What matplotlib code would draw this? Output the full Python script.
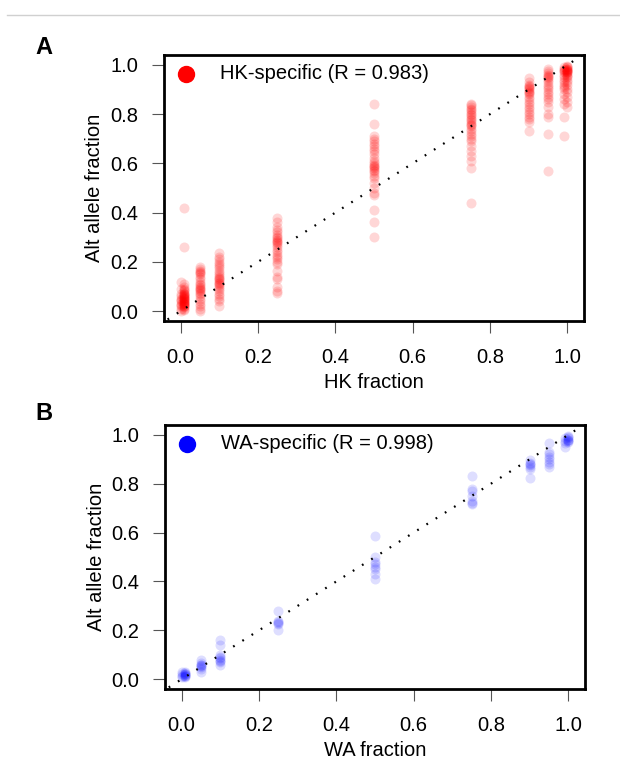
import matplotlib
matplotlib.use("Agg")
import matplotlib.pyplot as plt
from matplotlib.lines import Line2D

plt.rcParams['font.family'] = ['Liberation Sans', 'DejaVu Sans']

# ---------------- Panel A data (HK-specific) ----------------
hk_x_groups = [0.0, 0.01, 0.05, 0.1, 0.25, 0.5, 0.75, 0.9, 0.95, 0.99, 1.0]
hk_000 = [0.12, 0.09, 0.07, 0.06, 0.05, 0.045, 0.04, 0.03, 0.025, 0.02, 0.01, 0.0]
hk_001 = [0.42, 0.26, 0.11, 0.10, 0.09, 0.085, 0.08, 0.075, 0.07, 0.068, 0.065,
          0.062, 0.06, 0.058, 0.055, 0.053, 0.05, 0.048, 0.045, 0.043, 0.04,
          0.038, 0.035, 0.033, 0.03, 0.028, 0.025, 0.022, 0.02, 0.015, 0.01, 0.005]
hk_005 = [0.18, 0.17, 0.165, 0.16, 0.155, 0.15, 0.14, 0.13, 0.12, 0.11, 0.105,
          0.1, 0.095, 0.09, 0.085, 0.08, 0.075, 0.07, 0.06, 0.05, 0.04, 0.03,
          0.02, 0.01, 0.0]
hk_010 = [0.235, 0.22, 0.21, 0.2, 0.19, 0.185, 0.175, 0.165, 0.155, 0.145, 0.14,
          0.135, 0.13, 0.125, 0.12, 0.115, 0.11, 0.105, 0.1, 0.09, 0.08, 0.07,
          0.06, 0.05, 0.04, 0.02]
hk_025 = [0.38, 0.36, 0.34, 0.33, 0.32, 0.31, 0.30, 0.295, 0.29, 0.285, 0.28,
          0.275, 0.27, 0.26, 0.25, 0.24, 0.23, 0.22, 0.21, 0.2, 0.19, 0.165,
          0.14, 0.13, 0.1, 0.08, 0.075]
hk_050 = [0.84, 0.76, 0.71, 0.70, 0.69, 0.68, 0.67, 0.66, 0.65, 0.64, 0.62,
          0.61, 0.60, 0.595, 0.59, 0.585, 0.58, 0.575, 0.57, 0.56, 0.55, 0.54,
          0.52, 0.5, 0.48, 0.47, 0.41, 0.36, 0.30]
hk_075 = [0.84, 0.835, 0.83, 0.82, 0.815, 0.81, 0.80, 0.795, 0.79, 0.78, 0.775,
          0.77, 0.76, 0.755, 0.75, 0.74, 0.73, 0.72, 0.71, 0.70, 0.69, 0.67,
          0.65, 0.63, 0.61, 0.58, 0.44]
hk_090 = [0.945, 0.93, 0.92, 0.915, 0.91, 0.905, 0.9, 0.895, 0.89, 0.885, 0.88,
          0.87, 0.86, 0.85, 0.84, 0.83, 0.82, 0.81, 0.8, 0.79, 0.78, 0.77, 0.73]
hk_095 = [0.985, 0.975, 0.965, 0.96, 0.955, 0.95, 0.945, 0.94, 0.93, 0.92, 0.91,
          0.9, 0.89, 0.88, 0.87, 0.86, 0.85, 0.83, 0.8, 0.79, 0.72, 0.57]
hk_099 = [0.99, 0.985, 0.98, 0.975, 0.97, 0.96, 0.95, 0.94, 0.93, 0.92, 0.91,
          0.9, 0.88, 0.86, 0.84, 0.79, 0.71]
hk_100 = [0.995, 0.99, 0.99, 0.985, 0.985, 0.98, 0.98, 0.975, 0.975, 0.97, 0.97,
          0.965, 0.96, 0.955, 0.95, 0.94, 0.93, 0.92, 0.9, 0.89, 0.87, 0.85, 0.83]
hk_y_groups = [hk_000, hk_001, hk_005, hk_010, hk_025, hk_050, hk_075,
               hk_090, hk_095, hk_099, hk_100]

# ---------------- Panel B data (WA-specific) ----------------
wa_x_groups = [0.0, 0.01, 0.05, 0.1, 0.25, 0.5, 0.75, 0.9, 0.95, 0.99, 1.0]
wa_000 = [0.02, 0.015, 0.03, 0.01]
wa_001 = [0.025, 0.02, 0.018, 0.015, 0.012, 0.02, 0.03, 0.01]
wa_005 = [0.08, 0.065, 0.06, 0.057, 0.055, 0.05, 0.04, 0.03]
wa_010 = [0.16, 0.14, 0.1, 0.09, 0.085, 0.08, 0.075, 0.07, 0.06]
wa_025 = [0.28, 0.24, 0.235, 0.23, 0.225, 0.2]
wa_050 = [0.585, 0.5, 0.48, 0.47, 0.46, 0.45, 0.43, 0.41]
wa_075 = [0.83, 0.78, 0.77, 0.75, 0.73, 0.72, 0.715]
wa_090 = [0.895, 0.885, 0.88, 0.875, 0.87, 0.86, 0.825]
wa_095 = [0.965, 0.93, 0.92, 0.91, 0.9, 0.89, 0.88, 0.87]
wa_099 = [0.985, 0.975, 0.965, 0.95]
wa_100 = [0.995, 0.99, 0.985, 0.98, 0.98, 0.975, 0.97]
wa_y_groups = [wa_000, wa_001, wa_005, wa_010, wa_025, wa_050, wa_075,
               wa_090, wa_095, wa_099, wa_100]

tick_vals = [0.0, 0.2, 0.4, 0.6, 0.8, 1.0]
tick_labels = ["0.0", "0.2", "0.4", "0.6", "0.8", "1.0"]

panels = [
    dict(letter="A", xg=hk_x_groups, yg=hk_y_groups, color=(1, 0, 0),
         alpha=0.16, xlabel="HK fraction", legend="HK-specific (R = 0.983)",
         rect=[164/620, 1-321/773, 420/620, 266/773], lab_y=1-48/773),
    dict(letter="B", xg=wa_x_groups, yg=wa_y_groups, color=(0, 0, 1),
         alpha=0.13, xlabel="WA fraction", legend="WA-specific (R = 0.998)",
         rect=[165/620, 1-689/773, 420/620, 264/773], lab_y=1-413/773),
]

fig = plt.figure(figsize=(6.2, 7.73), dpi=100)
fig.add_artist(Line2D([7/620, 1.0], [1-14.5/773, 1-14.5/773],
                      transform=fig.transFigure, color="#d0d0d0", lw=1.0))

FS = 14.5
for p in panels:
    ax = fig.add_axes(p["rect"])
    xs, ys = [], []
    for xv, yl in zip(p["xg"], p["yg"]):
        xs.extend([xv] * len(yl))
        ys.extend(yl)
    ax.scatter(xs, ys, s=52, color=p["color"], alpha=p["alpha"], linewidths=0,
               zorder=2)
    ax.plot([-0.2, 1.2], [-0.2, 1.2], color="black", lw=1.6,
            linestyle=(0, (0.8, 4.1)), dash_capstyle="butt", zorder=3)
    ax.set_xlim(-0.043, 1.043)
    ax.set_ylim(-0.04, 1.04)
    ax.set_xticks(tick_vals)
    ax.set_xticklabels(tick_labels)
    ax.set_yticks(tick_vals)
    ax.set_yticklabels(tick_labels)
    ax.tick_params(direction="out", length=8.6, width=0.8, color="#555555",
                   labelsize=FS, pad=10)
    ax.tick_params(axis="x", pad=11)
    for sp in ax.spines.values():
        sp.set_linewidth(2.0)
        sp.set_color("black")
    ax.set_xlabel(p["xlabel"], fontsize=FS, va="center")
    ax.xaxis.set_label_coords(0.5, -62/266)
    ax.set_ylabel("Alt allele fraction", fontsize=FS, va="center")
    ax.yaxis.set_label_coords(-69/420, 0.5)
    # legend
    ax.plot([0.052], [0.929], marker="o", markersize=11.5, color=p["color"],
            transform=ax.transAxes, clip_on=False, zorder=4)
    ax.text(0.133, 0.929, p["legend"], transform=ax.transAxes, fontsize=FS,
            va="center", ha="left")
    fig.text(44/620, p["lab_y"], p["letter"], fontsize=17, fontweight="bold",
             ha="center", va="center")

fig.savefig("out.png", dpi=100)
